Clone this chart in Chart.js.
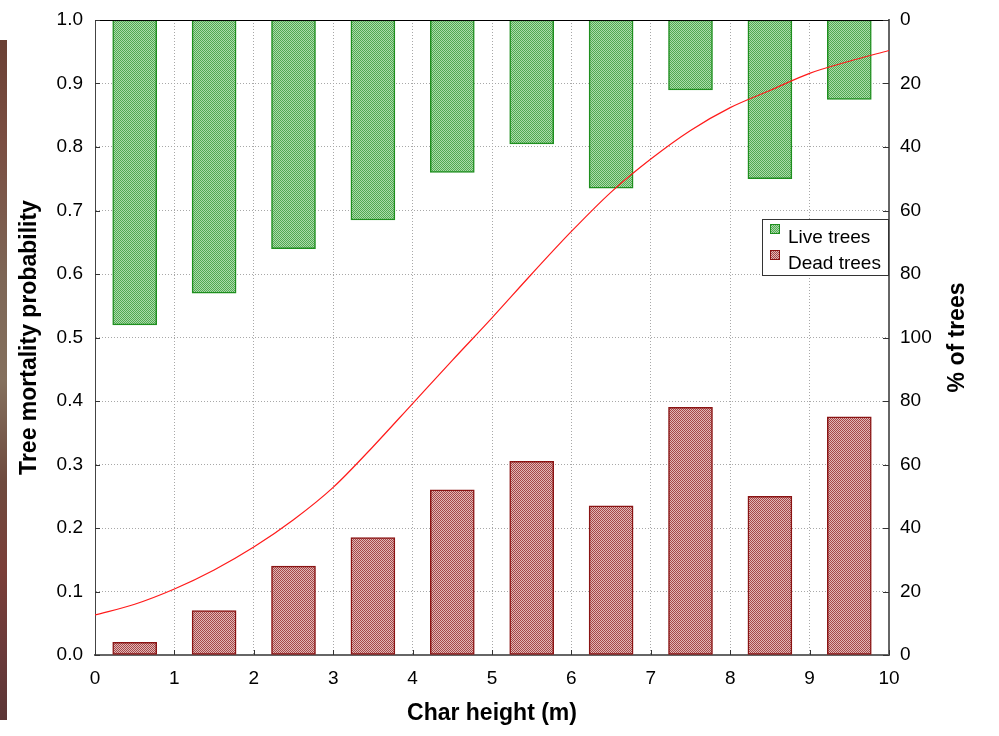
<!DOCTYPE html>
<html>
<head>
<meta charset="utf-8">
<script src="https://cdn.jsdelivr.net/npm/chart.js@4/dist/chart.umd.min.js"></script>
<style>
  html, body { margin: 0; padding: 0; background: #fff; }
  #wrap { position: relative; width: 999px; height: 736px; }
  #edge {
    position: absolute; left: 0; top: 40px; width: 7px; height: 680px;
    background: linear-gradient(to bottom, #6a4034 0%, #7a4e42 15%, #7d6656 35%, #84705e 50%, #6e4a3e 65%, #7a3e38 78%, #6a3a3a 90%, #5c3636 100%);
  }
</style>
</head>
<body>
<div id="wrap">
  <canvas id="c" width="999" height="736"></canvas>
  <div id="edge"></div>
</div>
<script>
// Char height classes (bar centres, m)
const heightClasses = [0.5, 1.5, 2.5, 3.5, 4.5, 5.5, 6.5, 7.5, 8.5, 9.5];
// Percentage of live and dead trees in each class
const livePct = [96, 86, 72, 63, 48, 39, 53, 22, 50, 25];
const deadPct = [4, 14, 28, 37, 52, 61, 47, 78, 50, 75];
// Fitted mortality probability vs char height
const curveX = [0, 0.5, 1, 1.5, 2, 2.5, 3, 3.5, 4, 4.5, 5, 5.5, 6, 6.5, 7, 7.5, 8, 8.5, 9, 9.5, 10];
const curveP = [0.063, 0.080, 0.104, 0.134, 0.170, 0.213, 0.264, 0.328, 0.396, 0.464, 0.531, 0.600, 0.667, 0.729, 0.781, 0.826, 0.862, 0.889, 0.916, 0.935, 0.952];
// Right axis labels, bottom to top (dead % rises from the bottom, live % hangs from the top)
const rightTickLabels = ['0', '20', '40', '60', '80', '100', '80', '60', '40', '20', '0'];

const FONT = "'Liberation Sans', Arial, sans-serif";

function makePattern(a, b) {
  const t = document.createElement('canvas');
  t.width = 2; t.height = 2;
  const g = t.getContext('2d');
  g.fillStyle = a; g.fillRect(0, 0, 2, 2);
  g.fillStyle = b; g.fillRect(0, 0, 1, 1); g.fillRect(1, 1, 1, 1);
  return g.createPattern(t, 'repeat');
}
const greenFill = makePattern('#abdcab', '#52a852');
const redFill = makePattern('#e2b6b6', '#a44848');

// live bars hang from the top: 100 % spans half the plot height
const liveBars = heightClasses.map((x, i) => ({ x: x, y: [1 - livePct[i] / 200, 1] }));
const deadBars = heightClasses.map((x, i) => ({ x: x, y: [0, deadPct[i] / 200] }));
const curve = curveX.map((x, i) => ({ x: x, y: curveP[i] }));

const frame = {
  id: 'frame',
  afterDatasetsDraw(chart) {
    const { ctx, chartArea: a, scales } = chart;
    ctx.save();
    // top border
    ctx.strokeStyle = '#000'; ctx.lineWidth = 1;
    ctx.beginPath(); ctx.moveTo(a.left, a.top + 0.5); ctx.lineTo(a.right, a.top + 0.5); ctx.stroke();
    // inner tick marks
    ctx.strokeStyle = '#333'; ctx.lineWidth = 1;
    scales.y.ticks.forEach(t => {
      const y = Math.round(scales.y.getPixelForValue(t.value)) + 0.5;
      ctx.beginPath(); ctx.moveTo(a.left, y); ctx.lineTo(a.left + 5, y); ctx.stroke();
      ctx.beginPath(); ctx.moveTo(a.right, y); ctx.lineTo(a.right - 6, y); ctx.stroke();
    });
    scales.x.ticks.forEach(t => {
      const x = Math.round(scales.x.getPixelForValue(t.value)) + 0.5;
      ctx.beginPath(); ctx.moveTo(x, a.bottom); ctx.lineTo(x, a.bottom - 5); ctx.stroke();
    });
    // right axis title, reading bottom to top
    ctx.fillStyle = '#000';
    ctx.font = 'bold 23px ' + FONT;
    ctx.textAlign = 'center'; ctx.textBaseline = 'middle';
    ctx.translate(958, (a.top + a.bottom) / 2);
    ctx.rotate(-Math.PI / 2);
    ctx.fillText('% of trees', 0, 0);
    ctx.restore();

    // legend
    ctx.save();
    const lx = 762, ly = 219, lw = 126, lh = 56;
    ctx.fillStyle = '#fff'; ctx.fillRect(lx, ly, lw, lh);
    ctx.strokeStyle = '#333'; ctx.lineWidth = 1;
    ctx.strokeRect(lx + 0.5, ly + 0.5, lw, lh);
    const items = [
      { text: chart.data.datasets[0].label, fill: greenFill, border: '#1f8f1f', y: 224 },
      { text: chart.data.datasets[1].label, fill: redFill, border: '#8a1414', y: 250 }
    ];
    ctx.font = '19px ' + FONT;
    ctx.textAlign = 'left'; ctx.textBaseline = 'alphabetic';
    items.forEach(it => {
      ctx.fillStyle = it.fill; ctx.fillRect(770, it.y, 10, 10);
      ctx.strokeStyle = it.border; ctx.strokeRect(770.5, it.y + 0.5, 9, 9);
      ctx.fillStyle = '#000';
      ctx.fillText(it.text, 788, it.y + 19);
    });
    ctx.restore();
  }
};

const tickFont = { family: FONT, size: 19 };
const titleFont = { family: FONT, size: 23, weight: 'bold' };

// fixed axis box sizes; end labels may overhang the plot edges
const fixWidth = w => s => { s.width = w; s.paddingTop = 0; s.paddingBottom = 0; };

new Chart(document.getElementById('c'), {
  data: {
    datasets: [
      { type: 'bar', label: 'Live trees', data: liveBars, backgroundColor: greenFill, borderColor: '#1f8f1f',
        borderWidth: 1.5, borderSkipped: false, grouped: false, barThickness: 44, order: 2, yAxisID: 'y' },
      { type: 'bar', label: 'Dead trees', data: deadBars, backgroundColor: redFill, borderColor: '#8a1414',
        borderWidth: 1.5, borderSkipped: false, grouped: false, barThickness: 44, order: 2, yAxisID: 'y' },
      { type: 'line', label: 'Mortality probability', data: curve, borderColor: '#ff1a1a', borderWidth: 1.2,
        pointRadius: 0, cubicInterpolationMode: 'monotone', order: 1, yAxisID: 'y' }
    ]
  },
  options: {
    responsive: false,
    animation: false,
    devicePixelRatio: 1,
    layout: { padding: { top: 20, left: 0, right: 0, bottom: 0 } },
    plugins: { legend: { display: false }, tooltip: { enabled: false } },
    scales: {
      x: {
        type: 'linear', min: 0, max: 10, offset: false,
        afterFit: s => { s.height = 81; },
        ticks: { stepSize: 1, color: '#000', font: tickFont, padding: 12, maxRotation: 0 },
        grid: { color: '#a8a8a8', lineWidth: 1, drawTicks: false, offset: false },
        border: { color: '#666', width: 2, dash: [1, 2] },
        title: { display: true, text: 'Char height (m)', color: '#000', font: titleFont, padding: { top: 0, bottom: 9 } }
      },
      y: {
        type: 'linear', position: 'left', min: 0, max: 1,
        afterFit: fixWidth(95),
        ticks: { stepSize: 0.1, color: '#000', font: tickFont, padding: 12, callback: v => v.toFixed(1) },
        grid: { color: '#a8a8a8', lineWidth: 1, drawTicks: false },
        border: { color: '#444', width: 1, dash: [1, 2] },
        title: { display: true, text: 'Tree mortality probability', color: '#000', font: titleFont, padding: { top: 16, bottom: 0 } }
      },
      y2: {
        type: 'linear', position: 'right', min: 0, max: 1,
        afterFit: fixWidth(110),
        ticks: { stepSize: 0.1, color: '#000', font: tickFont, padding: 11,
          callback: (v, i) => rightTickLabels[i] },
        grid: { drawOnChartArea: false, drawTicks: false },
        border: { color: '#666', width: 2 }
      }
    }
  },
  plugins: [frame]
});
</script>
</body>
</html>
